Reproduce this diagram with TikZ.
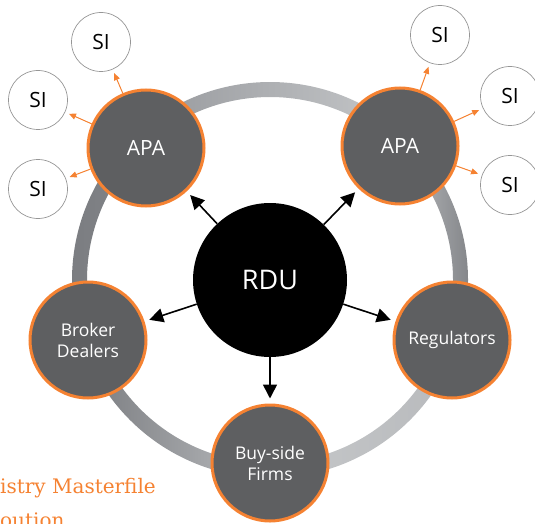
\documentclass[tikz,border=0pt]{standalone}
\usepackage{fontspec}
\setmainfont{Open Sans}
\newfontfamily\slabfont{DejaVu Serif}
\usetikzlibrary{arrows.meta}
\definecolor{rduorange}{RGB}{245,130,50}
\definecolor{partygrey}{RGB}{94,95,97}
\definecolor{sigrey}{RGB}{150,150,150}
\definecolor{ringdark}{RGB}{122,124,128}
\definecolor{ringmid}{RGB}{150,152,156}
\definecolor{ringlight}{RGB}{198,200,202}
\tikzset{
  hub/.style={circle, fill=black, text=white, minimum size=154pt, inner sep=0pt,
    font=\fontsize{27}{30}\selectfont},
  party/.style={circle, draw=rduorange, line width=3pt, fill=partygrey, text=white,
    minimum size=116pt, inner sep=0pt, align=center, font=\fontsize{17.5}{21}\selectfont},
  si/.style={circle, draw=sigrey, line width=0.7pt, fill=white, minimum size=59pt,
    inner sep=0pt, font=\fontsize{21}{24}\selectfont},
  rduarrow/.style={-{Triangle[length=14pt,width=14pt]}, line width=1.6pt, shorten >=5pt},
  siarrow/.style={-{Triangle[length=7pt,width=6pt]}, line width=1pt, draw=rduorange, shorten >=4pt},
}
\begin{document}
\begin{tikzpicture}[x=1pt, y=-1pt]
\useasboundingbox (0,0) rectangle (535,524);
\coordinate (ring) at (270,280);
% ring behind the circles
\shade[left color=ringmid, right color=ringlight]
  ([shift={(-133:198)}]ring) arc[start angle=-133, end angle=-46, radius=198]
  -- ([shift={(-46:183)}]ring) arc[start angle=-46, end angle=-133, radius=183] -- cycle;
\shade[left color=ringlight!80!ringmid, right color=ringdark]
  ([shift={(-46:198)}]ring) arc[start angle=-46, end angle=18, radius=198]
  -- ([shift={(18:183)}]ring) arc[start angle=18, end angle=-46, radius=183] -- cycle;
\shade[left color=ringlight, right color=ringlight!70!ringmid]
  ([shift={(18:198)}]ring) arc[start angle=18, end angle=90, radius=198]
  -- ([shift={(90:183)}]ring) arc[start angle=90, end angle=18, radius=183] -- cycle;
\shade[left color=ringdark, right color=ringlight!75!ringmid]
  ([shift={(90:198)}]ring) arc[start angle=90, end angle=162, radius=198]
  -- ([shift={(162:183)}]ring) arc[start angle=162, end angle=90, radius=183] -- cycle;
\shade[left color=ringdark, right color=ringdark!70!ringmid]
  ([shift={(162:198)}]ring) arc[start angle=162, end angle=227, radius=198]
  -- ([shift={(227:183)}]ring) arc[start angle=227, end angle=162, radius=183] -- cycle;

\node[hub] (rdu) at (270,280) {RDU};
\node[party, font=\fontsize{21}{24}\selectfont] (apaL) at (146,148) {APA};
\node[party, font=\fontsize{21}{24}\selectfont] (apaR) at (400,146) {APA};
\node[party] (broker) at (88,340) {Broker\\Dealers};
\node[party] (regul) at (452,340) {Regulators};
\node[party] (buyside) at (270,463) {Buy-side\\Firms};

\node[si] (siL1) at (101,42) {SI};
\node[si] (siL2) at (38,100) {SI};
\node[si] (siL3) at (38,189) {SI};
\node[si] (siR1) at (440,35) {SI};
\node[si] (siR2) at (510,96) {SI};
\node[si] (siR3) at (510,185) {SI};

\draw[rduarrow] (rdu) -- (apaL);
\draw[rduarrow] (rdu) -- (apaR);
\draw[rduarrow] (rdu) -- (broker);
\draw[rduarrow] (rdu) -- (regul);
\draw[rduarrow] (rdu) -- (buyside);

\draw[siarrow] (apaL) -- (siL1);
\draw[siarrow] (apaL) -- (siL2);
\draw[siarrow] (apaL) -- (siL3);
\draw[siarrow] (apaR) -- (siR1);
\draw[siarrow] (apaR) -- (siR2);
\draw[siarrow] (apaR) -- (siR3);

\node[anchor=base west, inner sep=0pt, text=rduorange, font=\slabfont\fontsize{20}{24}\selectfont]
  (title1) at (0,493) {istry Masterfile};
\node[anchor=base west, inner sep=0pt, text=rduorange, font=\slabfont\fontsize{20}{24}\selectfont]
  (title2) at (0,527) {oution};
\end{tikzpicture}
\end{document}
